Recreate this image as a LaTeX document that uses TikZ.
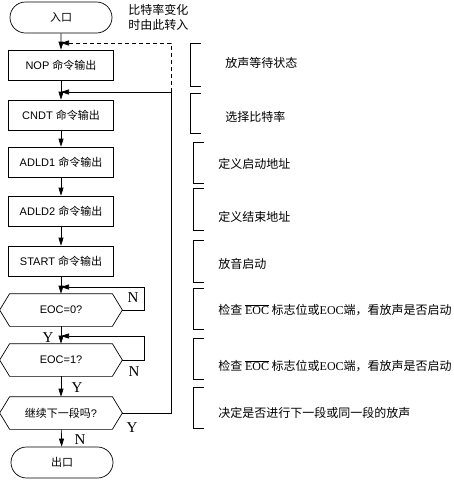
\documentclass[tikz,border=0pt]{standalone}
\usepackage{fontspec}
\setmainfont{Liberation Sans}
\newfontfamily\cjk{Noto Sans CJK SC}
\newfontfamily\serifyn{Liberation Serif}
\usetikzlibrary{shapes.misc,arrows.meta}
\newcommand\hexshape[1]{\draw ([xshift=0pt]#1.west) -- ([xshift=10pt]#1.north west) -- ([xshift=-10pt]#1.north east) -- (#1.east) -- ([xshift=-10pt]#1.south east) -- ([xshift=10pt]#1.south west) -- cycle;}
\begin{document}
\begin{tikzpicture}[x=1pt,y=-1pt, line width=0.7pt,
  every node/.style={font=\fontsize{11}{13}\selectfont},
  procbox/.style={draw, rectangle, minimum width=105pt, minimum height=30pt, inner sep=0pt},
  term/.style={draw, rounded rectangle, minimum width=102pt, minimum height=31pt, inner sep=0pt},
  decbox/.style={rectangle, minimum width=122pt, minimum height=32pt, inner sep=0pt},
  arr/.style={-{Triangle[length=8pt,width=5pt]}},
  dashline/.style={dash pattern=on 4pt off 3pt},
  yn/.style={font=\serifyn\fontsize{15}{15}\selectfont, inner sep=0pt},
  note/.style={anchor=west, inner sep=0pt, font=\cjk\fontsize{12}{14}\selectfont},
  brk/.style={line width=0.6pt}]
\useasboundingbox (0,0) rectangle (454,480);
% flow nodes
\node[term] (in) at (61,17.5) {\cjk 入口};
\node[procbox] (nop) at (61,65) {NOP {\cjk 命令输出}};
\node[procbox] (cndt) at (61,115) {CNDT {\cjk 命令输出}};
\node[procbox] (ad1) at (61,162) {ADLD1 {\cjk 命令输出}};
\node[procbox] (ad2) at (61,211) {ADLD2 {\cjk 命令输出}};
\node[procbox] (st) at (61,261) {START {\cjk 命令输出}};
\node[decbox] (d0) at (61,310) {EOC=0?};
\node[decbox] (d1) at (61,360) {EOC=1?};
\node[decbox] (d2) at (61,413) {{\cjk 继续下一段吗}?};
\node[term] (out) at (62,462.5) {\cjk 出口};
\hexshape{d0}
\hexshape{d1}
\hexshape{d2}
% junctions
\coordinate (j0) at (61,43);
\coordinate (j1) at (61,92);
\coordinate (j2) at (61,287);
\coordinate (j3) at (61,336);
\coordinate (k1) at (171,92);
% main arrows
\draw[arr] (in) -- (nop);
\draw[arr] (nop) -- (cndt);
\draw[arr] (cndt) -- (ad1);
\draw[arr] (ad1) -- (ad2);
\draw[arr] (ad2) -- (st);
\draw[arr] (st) -- (d0);
\draw[arr] (d0) -- (d1);
\draw[arr] (d1) -- (d2);
\draw[arr] (d2) -- (out);
% loops
\draw[arr] (d0.east) -- ++(22,0) |- (j2);
\draw[arr] (d1.east) -- ++(22,0) |- (j3);
\draw[arr] (d2.east) -| (k1) -- (j1);
\draw[arr, dashline] (k1) |- (j0);
% Y/N labels
\node[yn] (n0) at (133,298) {N};
\node[yn] (y0) at (48,338) {Y};
\node[yn] (n1) at (134,372) {N};
\node[yn] (y1) at (77,388) {Y};
\node[yn] (y2) at (132,428) {Y};
\node[yn] (n2) at (80,440) {N};
% top note
\node[note] (t0) at (128,10) {比特率变化};
\node[note] (t1) at (128,25) {时由此转入};
% brackets
\draw[brk] (201,43) -- (190,43) -- (190,86) -- (201,86);
\draw[brk] (201,93) -- (190,93) -- (190,133) -- (201,133);
\draw[brk] (204,142) -- (193,142) -- (193,183) -- (204,183);
\draw[brk] (204,188) -- (193,188) -- (193,230) -- (204,230);
\draw[brk] (204,240) -- (193,240) -- (193,282) -- (204,282);
\draw[brk] (204,288) -- (193,288) -- (193,329) -- (204,329);
\draw[brk] (204,338) -- (193,338) -- (193,379) -- (204,379);
\draw[brk] (204,387) -- (193,387) -- (193,428) -- (204,428);
% notes
\node[note] (r0) at (225,63) {放声等待状态};
\node[note] (r1) at (225,117) {选择比特率};
\node[note] (r2) at (218,164) {定义启动地址};
\node[note] (r3) at (218,217) {定义结束地址};
\node[note] (r4) at (218,264) {放音启动};
\node[note] (r5) at (218,310) {检查 {\serifyn$\overline{\hbox{EOC}}$} 标志位或{\serifyn EOC}端，看放声是否启动};
\node[note] (r6) at (218,366) {检查 {\serifyn$\overline{\hbox{EOC}}$} 标志位或{\serifyn EOC}端，看放声是否启动};
\node[note] (r7) at (218,413) {决定是否进行下一段或同一段的放声};
\end{tikzpicture}
\end{document}
